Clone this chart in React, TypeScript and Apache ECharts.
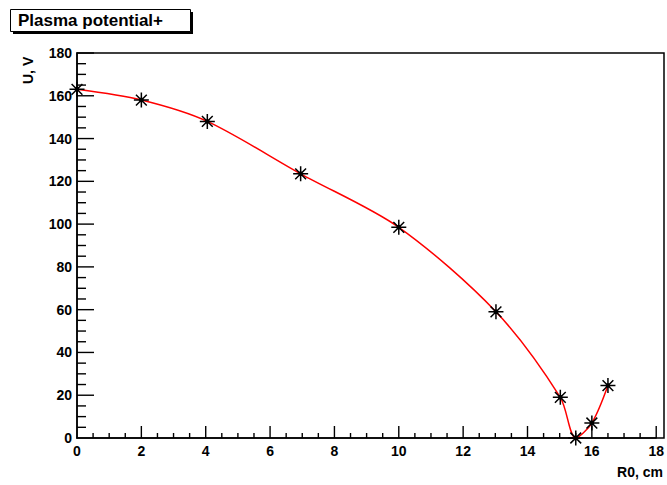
import React, { useEffect, useRef } from "react";
import * as echarts from "echarts";

const titleText = "Plasma potential+";
const xAxisTitle = "R0, cm";
const yAxisTitle = "U, V";
const rValues = [0, 2.0, 4.05, 6.95, 10.0, 13.02, 15.02, 15.5, 16.0, 16.5];
const uValues = [163, 158, 148, 123.5, 98.5, 59, 19, 0, 7, 24.5];

const X_MIN = 0;
const X_MAX = 18;
const X_STEP = 2;
const Y_MIN = 0;
const Y_MAX = 180;
const Y_STEP = 20;
const MINOR_DIVS = 4;

const FONT = "'Liberation Sans', Arial, sans-serif";
const STAR =
  "path://M0,-1L0,1M-1,0L1,0M-0.72,-0.72L0.72,0.72M-0.72,0.72L0.72,-0.72M-0.2,-0.2L0.2,-0.2L0.2,0.2L-0.2,0.2Z";

function renderTicks(params: any, api: any) {
  const children: any[] = [];
  const w = 1.4;
  const xCount = Math.round(((X_MAX - X_MIN) / X_STEP) * MINOR_DIVS);
  for (let i = 1; i <= xCount; i++) {
    const v = X_MIN + (i * X_STEP) / MINOR_DIVS;
    const p = api.coord([v, Y_MIN]);
    const len = i % MINOR_DIVS === 0 ? 12 : 5;
    children.push({
      type: "rect",
      shape: { x: p[0] - w / 2, y: p[1] - len, width: w, height: len },
      style: { fill: "#000" },
    });
  }
  const yCount = Math.round(((Y_MAX - Y_MIN) / Y_STEP) * MINOR_DIVS);
  for (let j = 1; j <= yCount; j++) {
    const v = Y_MIN + (j * Y_STEP) / MINOR_DIVS;
    const p = api.coord([X_MIN, v]);
    const len = j % MINOR_DIVS === 0 ? 17 : 9;
    children.push({
      type: "rect",
      shape: { x: p[0], y: p[1] - w / 2, width: len, height: w },
      style: { fill: "#000" },
    });
  }
  return { type: "group", children };
}

export default function App() {
  const ref = useRef<HTMLDivElement>(null);
  useEffect(() => {
    if (!ref.current) return;
    const chart = echarts.init(ref.current, null, { renderer: "svg" });
    const data = rValues.map((r, i) => [r, uValues[i]]);
    chart.setOption({
      animation: false,
      grid: { left: 77, top: 53, right: 3, bottom: 47 },
      xAxis: {
        type: "value",
        min: X_MIN,
        max: X_MAX,
        interval: X_STEP,
        axisLine: { show: true, lineStyle: { color: "#000", width: 1.5 } },
        axisTick: { show: false },
        splitLine: { show: false },
        axisLabel: {
          color: "#000",
          fontFamily: FONT,
          fontWeight: "bold",
          fontSize: 14,
          margin: 6,
        },
      },
      yAxis: {
        type: "value",
        min: Y_MIN,
        max: Y_MAX,
        interval: Y_STEP,
        axisLine: { show: true, lineStyle: { color: "#000", width: 1.5 } },
        axisTick: { show: false },
        splitLine: { show: false },
        axisLabel: {
          color: "#000",
          fontFamily: FONT,
          fontWeight: "bold",
          fontSize: 14,
          margin: 5,
        },
      },
      series: [
        {
          type: "line",
          data,
          smooth: 0.3,
          lineStyle: { color: "#ff0000", width: 1.5 },
          symbol: STAR,
          symbolSize: 15,
          showAllSymbol: true,
          itemStyle: { color: "#000", borderColor: "#000", borderWidth: 1.5 },
          z: 3,
        },
        {
          type: "custom",
          data: [[X_MIN, Y_MIN]],
          renderItem: renderTicks,
          silent: true,
          clip: false,
          z: 20,
        },
      ],
      graphic: [
        {
          type: "rect",
          x: 77,
          y: 53,
          shape: { width: 587, height: 385 },
          style: { fill: "none", stroke: "#000", lineWidth: 1.5 },
          silent: true,
          z: 1,
        },
        {
          type: "rect",
          left: 13,
          top: 12,
          shape: { width: 180, height: 22 },
          style: { fill: "#000" },
          z: 10,
        },
        {
          type: "rect",
          left: 10,
          top: 9,
          shape: { width: 180, height: 22 },
          style: { fill: "#fff", stroke: "#000", lineWidth: 1 },
          z: 11,
        },
        {
          type: "text",
          left: 18,
          top: 12,
          style: {
            text: titleText,
            fill: "#000",
            font: `bold 17px ${FONT}`,
          },
          z: 12,
        },
        {
          type: "text",
          x: 28,
          y: 84,
          rotation: Math.PI / 2,
          style: {
            text: yAxisTitle,
            fill: "#000",
            font: `bold 14px ${FONT}`,
            textAlign: "left",
            textVerticalAlign: "middle",
          },
          z: 12,
        },
        {
          type: "text",
          x: 663,
          y: 472,
          style: {
            text: xAxisTitle,
            fill: "#000",
            font: `bold 14px ${FONT}`,
            textAlign: "right",
            textVerticalAlign: "middle",
          },
          z: 12,
        },
      ],
    });
    return () => chart.dispose();
  }, []);
  return (
    <div
      ref={ref}
      style={{ position: "fixed", left: 0, top: 0, width: 667, height: 485, background: "#fff" }}
    />
  );
}
